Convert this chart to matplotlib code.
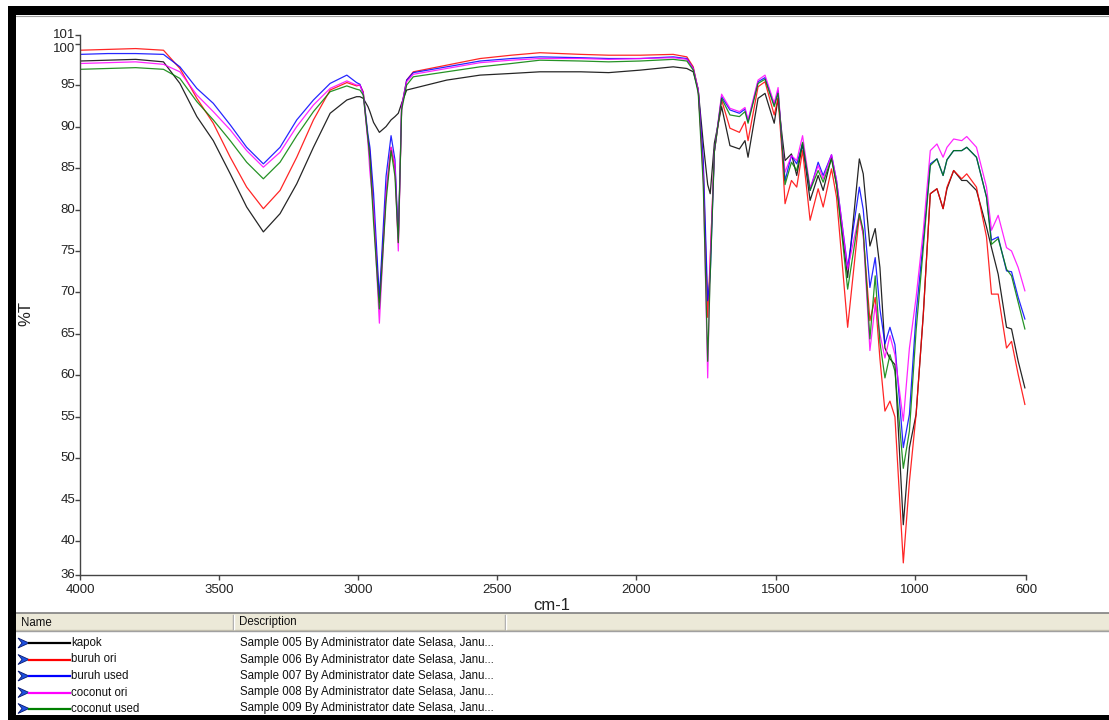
import matplotlib
matplotlib.use("Agg")
import matplotlib.pyplot as plt
from matplotlib.patches import Rectangle, Polygon
from matplotlib.lines import Line2D

plt.rcParams['font.family'] = ['Liberation Sans', 'DejaVu Sans']

# ---------------- data ----------------
wavenumber = [4000, 3900, 3800, 3700, 3641, 3580, 3521, 3460, 3401, 3341,
              3281, 3221, 3161, 3101, 3041, 3006, 2994, 2982, 2965, 2958,
              2945, 2924, 2900, 2882, 2868, 2856, 2844, 2826, 2802, 2682,
              2562, 2450, 2347, 2200, 2100, 1987, 1868, 1819, 1796, 1778,
              1760, 1744, 1735, 1720, 1694, 1664, 1630, 1610, 1599, 1563,
              1538, 1505, 1491, 1477, 1466, 1443, 1424, 1403, 1376, 1347,
              1329, 1299, 1281, 1241, 1199, 1185, 1161, 1142, 1125, 1107,
              1089, 1071, 1041, 1019, 995, 969, 944, 920, 898, 884,
              860, 831, 813, 778, 742, 724, 700, 670, 652, 628, 604]

kapok = [97.9, 98.0, 98.1, 97.8, 95.2, 91.2, 88.3, 84.3, 80.3, 77.3,
         79.5, 83.1, 87.5, 91.6, 93.2, 93.6, 93.6, 93.4, 92.4, 91.8,
         90.5, 89.3, 90.0, 90.8, 91.2, 91.6, 92.8, 94.4, 94.6, 95.6,
         96.2, 96.4, 96.6, 96.6, 96.5, 96.8, 97.2, 97.0, 96.6, 94.4,
         88.0, 83.0, 81.9, 88.0, 92.4, 87.7, 87.3, 88.3, 86.3, 93.4,
         94.0, 90.4, 93.4, 89.0, 85.9, 86.7, 84.1, 87.9, 81.1, 84.1,
         82.3, 86.3, 83.0, 71.8, 86.1, 84.3, 75.6, 77.7, 73.0, 63.3,
         62.0, 61.3, 42.0, 51.3, 55.3, 67.4, 81.9, 82.5, 80.1, 82.5,
         84.7, 83.5, 83.5, 82.3, 77.9, 75.4, 72.2, 65.8, 65.6, 61.7, 58.5]

buruh_ori = [99.2, 99.3, 99.4, 99.2, 97.0, 93.4, 90.4, 86.3, 82.7, 80.1,
             82.3, 86.3, 90.8, 94.4, 95.3, 94.9, 95.0, 94.2, 88.5, 87.0,
             80.0, 68.8, 82.0, 87.5, 85.0, 76.0, 92.4, 95.6, 96.6, 97.4,
             98.2, 98.6, 98.9, 98.7, 98.6, 98.6, 98.7, 98.4, 97.2, 94.4,
             85.0, 67.0, 74.0, 87.0, 93.2, 89.8, 89.3, 90.6, 88.3, 94.8,
             95.4, 91.4, 93.4, 87.0, 80.7, 83.5, 82.7, 87.1, 78.7, 82.5,
             80.3, 84.9, 81.5, 65.8, 79.3, 77.0, 66.6, 69.4, 62.0, 55.7,
             56.9, 55.0, 37.4, 47.2, 55.3, 67.4, 81.9, 82.5, 80.1, 82.7,
             84.7, 83.7, 84.3, 82.7, 76.7, 69.8, 69.8, 63.3, 64.1, 60.1, 56.5]

buruh_used = [98.7, 98.8, 98.8, 98.7, 97.2, 94.6, 92.8, 90.2, 87.5, 85.5,
              87.5, 90.8, 93.2, 95.2, 96.2, 95.3, 95.1, 94.0, 89.0, 87.5,
              82.0, 69.3, 84.0, 88.9, 86.0, 76.5, 92.4, 95.6, 96.5, 97.2,
              97.9, 98.2, 98.4, 98.3, 98.2, 98.2, 98.4, 98.2, 97.0, 94.4,
              86.0, 69.0, 72.0, 87.0, 93.6, 92.0, 91.6, 92.1, 90.6, 95.4,
              95.9, 92.6, 94.3, 88.0, 83.5, 86.5, 85.5, 87.9, 82.3, 85.7,
              84.1, 86.6, 83.5, 73.0, 82.7, 80.0, 70.6, 74.2, 68.0, 63.8,
              65.8, 63.7, 51.3, 55.3, 67.4, 76.3, 85.5, 86.1, 84.1, 86.0,
              87.1, 87.1, 87.5, 86.3, 81.5, 76.3, 76.7, 72.6, 72.5, 69.4, 66.8]

coconut_ori = [97.6, 97.7, 97.8, 97.5, 96.6, 93.8, 91.8, 89.6, 87.1, 85.1,
               86.9, 90.0, 92.6, 94.6, 95.5, 95.0, 95.0, 94.0, 88.0, 84.5,
               80.0, 66.3, 82.0, 87.5, 85.5, 75.0, 92.4, 95.4, 96.3, 97.0,
               97.7, 98.0, 98.2, 98.2, 98.1, 98.2, 98.3, 98.1, 97.0, 94.4,
               84.0, 59.7, 74.0, 87.0, 93.9, 92.2, 91.8, 92.3, 90.8, 95.6,
               96.2, 92.8, 94.7, 88.0, 84.5, 86.5, 85.9, 88.9, 82.6, 85.3,
               83.7, 86.6, 83.5, 72.8, 79.5, 77.0, 63.0, 68.5, 65.0, 62.1,
               64.8, 62.5, 54.5, 63.3, 69.4, 77.5, 87.1, 87.9, 86.3, 87.5,
               88.5, 88.3, 88.8, 87.5, 82.7, 77.5, 79.3, 75.4, 75.0, 73.0, 70.2]

coconut_used = [96.9, 97.0, 97.1, 96.9, 95.8, 93.0, 90.8, 88.3, 85.7, 83.7,
                85.7, 88.9, 91.8, 94.2, 94.9, 94.5, 94.4, 93.8, 88.5, 86.0,
                78.5, 68.0, 81.0, 87.1, 84.0, 76.0, 92.0, 95.0, 96.0, 96.6,
                97.2, 97.6, 98.0, 97.9, 97.8, 97.9, 98.1, 97.9, 96.8, 94.0,
                83.0, 61.7, 72.0, 87.0, 93.4, 91.4, 91.2, 91.8, 90.4, 95.2,
                95.7, 92.4, 94.0, 88.0, 83.0, 85.7, 84.7, 88.1, 82.3, 84.7,
                83.3, 86.1, 83.0, 70.4, 79.5, 77.5, 64.4, 72.0, 64.0, 59.7,
                62.5, 60.5, 48.8, 53.3, 65.4, 75.4, 85.3, 86.1, 84.1, 86.0,
                87.1, 87.1, 87.5, 86.3, 81.5, 75.8, 76.5, 72.8, 72.0, 68.8, 65.6]

series_names = ['kapok', 'buruh ori', 'buruh used', 'coconut ori', 'coconut used']
series_values = [kapok, buruh_ori, buruh_used, coconut_ori, coconut_used]
series_colors = ['#000000', '#FF0000', '#0000FF', '#FF00FF', '#008000']
sample_ids = ['005', '006', '007', '008', '009']

x_ticks = [4000, 3500, 3000, 2500, 2000, 1500, 1000, 600]
y_ticks = [36, 40, 45, 50, 55, 60, 65, 70, 75, 80, 85, 90, 95, 100, 101]

# ---------------- figure ----------------
W, H = 1109, 720
fig = plt.figure(figsize=(W / 100, H / 100), dpi=100)
fig.patch.set_facecolor('white')

def fx(px):
    return px / W

def fy(py):
    return 1 - py / H

ax_left, ax_right, ax_top, ax_bottom = 80, 1026, 35.3, 574.5
ax = fig.add_axes([fx(ax_left), fy(ax_bottom), (ax_right - ax_left) / W,
                   (ax_bottom - ax_top) / H])

for vals, col in zip(series_values, series_colors):
    ax.plot(wavenumber, vals, color=col, lw=0.9, alpha=0.85, solid_joinstyle='round')

ax.set_xlim(4000, 600)
ax.set_ylim(36, 101)
for s in ['top', 'right']:
    ax.spines[s].set_visible(False)
for s in ['left', 'bottom']:
    ax.spines[s].set_color('#444444')
    ax.spines[s].set_linewidth(1.0)

ax.set_xticks(x_ticks)
ax.set_xticklabels([str(t) for t in x_ticks])
ax.tick_params(axis='x', direction='out', length=3.5, width=1.0, color='#444444',
               labelsize=9.5, labelcolor='#222222', pad=3.5)
ax.set_yticks(y_ticks)
ax.set_yticklabels([''] * len(y_ticks))
ax.tick_params(axis='y', direction='out', length=3.5, width=1.0, color='#444444')
for t in y_ticks:
    dy = -3.6 if t == 100 else 0
    ax.annotate(str(t), xy=(0, t), xycoords=('axes fraction', 'data'),
                xytext=(-3.2, dy), textcoords='offset points',
                ha='right', va='center', fontsize=9.5, color='#222222')

fig.text(fx(552), fy(605), 'cm-1', ha='center', va='center', fontsize=12, color='#222222')
fig.text(fx(26), fy(313), '%T', ha='center', va='center', rotation=90, fontsize=12,
         color='#222222')

# ---------------- table below the plot ----------------
fig.add_artist(Rectangle((fx(16), fy(631)), 1 - fx(16), (631 - 613) / H,
                         transform=fig.transFigure, facecolor='#ECE9D8',
                         edgecolor='none', zorder=1))
fig.add_artist(Line2D([fx(16), 1], [fy(613), fy(613)], transform=fig.transFigure,
                      color='#808080', lw=1.2))
fig.add_artist(Line2D([fx(16), 1], [fy(629.5), fy(629.5)], transform=fig.transFigure,
                      color='#C8C4B0', lw=1.0))
fig.add_artist(Line2D([fx(16), 1], [fy(631), fy(631)], transform=fig.transFigure,
                      color='#A0A0A0', lw=1.0))
for cx in [233, 505]:
    fig.add_artist(Line2D([fx(cx), fx(cx)], [fy(615), fy(629)], transform=fig.transFigure,
                          color='#A0A0A0', lw=1.0))
    fig.add_artist(Line2D([fx(cx + 1), fx(cx + 1)], [fy(615), fy(629)],
                          transform=fig.transFigure, color='white', lw=1.0))
fig.text(fx(21), fy(622.5), 'Name', ha='left', va='center', fontsize=8.3, color='#111111')
fig.text(fx(239), fy(622.5), 'Description', ha='left', va='center', fontsize=8.3,
         color='#111111')

row_y = [643, 659.5, 676, 692.5, 708.5]
for ry, name, col, sid in zip(row_y, series_names, series_colors, sample_ids):
    fig.add_artist(Polygon([(fx(18), fy(ry - 5)), (fx(29), fy(ry)), (fx(18), fy(ry + 5)),
                            (fx(22), fy(ry))], closed=True, transform=fig.transFigure,
                           facecolor='#1E50E0', edgecolor='#0A1A70', lw=0.6))
    fig.add_artist(Line2D([fx(29), fx(70)], [fy(ry), fy(ry)], transform=fig.transFigure,
                          color=col, lw=1.6))
    fig.text(fx(71), fy(ry), name, ha='left', va='center', fontsize=8.3, color='#111111')
    fig.text(fx(240), fy(ry), 'Sample %s By Administrator date Selasa, Janu...' % sid,
             ha='left', va='center', fontsize=8.3, color='#111111')

# ---------------- screenshot frame ----------------
fig.add_artist(Rectangle((fx(8), fy(15)), 1 - fx(8), 9 / H, transform=fig.transFigure,
                         facecolor='black', edgecolor='none', zorder=5))
fig.add_artist(Line2D([fx(16), 1], [fy(15.5), fy(15.5)], transform=fig.transFigure,
                      color='#A0A0A0', lw=0.8))
fig.add_artist(Rectangle((fx(8), 0), 8 / W, fy(6), transform=fig.transFigure,
                         facecolor='black', edgecolor='none', zorder=5))
fig.add_artist(Rectangle((fx(8), 0), 1 - fx(8), 5.5 / H, transform=fig.transFigure,
                         facecolor='black', edgecolor='none', zorder=5))

fig.savefig('out.png', dpi=100, facecolor='white')
